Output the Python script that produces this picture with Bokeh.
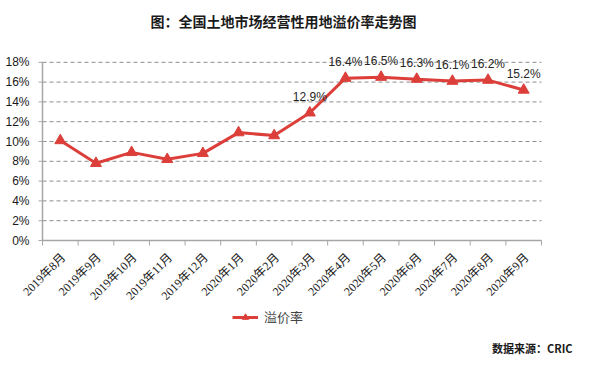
import math
from bokeh.plotting import figure
from bokeh.models import ColumnDataSource, LabelSet, Label, Legend, LegendItem, Range1d
from bokeh.core.properties import value
from bokeh.embed import file_html
from bokeh.resources import INLINE

# ---- data ----
months = ["2019年8月", "2019年9月", "2019年10月", "2019年11月", "2019年12月",
          "2020年1月", "2020年2月", "2020年3月", "2020年4月", "2020年5月",
          "2020年6月", "2020年7月", "2020年8月", "2020年9月"]
premium_rate = [10.1, 7.8, 8.9, 8.2, 8.8, 10.9, 10.6, 12.9, 16.4, 16.5, 16.3, 16.1, 16.2, 15.2]
show_label = [False] * 7 + [True] * 7
y_ticks = [0, 2, 4, 6, 8, 10, 12, 14, 16, 18]
y_tick_labels = ["0%", "2%", "4%", "6%", "8%", "10%", "12%", "14%", "16%", "18%"]
title_text = "图：全国土地市场经营性用地溢价率走势图"
series_name = "溢价率"
source_text = "数据来源：CRIC"

RED = "#dc3f3a"
AXIS = "#a6a6a6"
n = len(months)

# ---- canvas / scale geometry (pixels) ----
W, H = 574, 355
plot_left, plot_right = 42, 541      # x of category 0 edge and category n edge
zero_y, px_per_pct = 240, 9.9        # pixel row of 0% and pixels per percentage point
ux = (plot_right - plot_left) / n
x_start = -plot_left / ux
x_end = n + (W - plot_right) / ux
y_end = zero_y / px_per_pct
y_start = -(H - zero_y) / px_per_pct
tick_len_x = 4 / ux
tick_len_y = 5 / px_per_pct

xs = [i + 0.5 for i in range(n)]
labels = [f"{v:.1f}%" if s else "" for v, s in zip(premium_rate, show_label)]
src = ColumnDataSource(dict(x=xs, y=premium_rate, lab=labels))
cat_src = ColumnDataSource(dict(x=xs, y=[0] * n, m=months))
bnd = list(range(n + 1))
xtick_src = ColumnDataSource(dict(x=bnd, y0=[0] * len(bnd), y1=[-tick_len_y] * len(bnd)))
ytick_src = ColumnDataSource(dict(y=y_ticks, x0=[-tick_len_x] * len(y_ticks),
                                  x1=[0] * len(y_ticks), x=[0] * len(y_ticks),
                                  t=y_tick_labels))
grid_src = ColumnDataSource(dict(y=y_ticks[1:], x0=[0] * (len(y_ticks) - 1),
                                 x1=[n] * (len(y_ticks) - 1)))

p = figure(width=W, height=H, output_backend="svg", toolbar_location=None,
           x_range=Range1d(x_start, x_end), y_range=Range1d(y_start, y_end),
           min_border_left=0, min_border_right=0, min_border_top=0, min_border_bottom=0)
p.outline_line_color = None
p.background_fill_color = "white"
p.border_fill_color = "white"
p.axis.visible = False
p.grid.visible = False

# gridlines (dashed) across the plot area
p.segment(x0="x0", y0="y", x1="x1", y1="y", source=grid_src,
          line_color="#8c8c8c", line_dash="4 3", line_width=1)

# value axis
p.segment(x0=0, y0=0, x1=0, y1=y_ticks[-1], line_color=AXIS, line_width=1.5)
p.segment(x0="x0", y0="y", x1="x1", y1="y", source=ytick_src, line_color=AXIS, line_width=1)
p.add_layout(LabelSet(x="x", y="y", text="t", source=ytick_src, x_offset=-13,
                      text_align="right", text_baseline="middle",
                      text_font=value("Liberation Sans"), text_font_size="12px",
                      text_color="#1a1a1a"))

# category axis
p.segment(x0=0, y0=0, x1=n, y1=0, line_color=AXIS, line_width=1.5)
p.segment(x0="x", y0="y0", x1="x", y1="y1", source=xtick_src, line_color=AXIS, line_width=1)
p.add_layout(LabelSet(x="x", y="y", text="m", source=cat_src, angle=math.pi / 4,
                      text_align="right", text_baseline="middle", x_offset=3, y_offset=-15,
                      text_font=value("Liberation Serif, Noto Sans CJK SC"),
                      text_font_size="12px", text_color="#1a1a1a"))

# series
r_line = p.line("x", "y", source=src, line_color=RED, line_width=3)
r_mark = p.scatter("x", "y", source=src, marker="triangle", size=11,
                   fill_color=RED, line_color=RED)
p.add_layout(LabelSet(x="x", y="y", text="lab", source=src, text_align="center",
                      text_baseline="bottom", y_offset=9,
                      text_font=value("Liberation Sans"), text_font_size="12px",
                      text_color="#262626"))

legend = Legend(items=[LegendItem(label=series_name, renderers=[r_line, r_mark])],
                location=(232, 29), orientation="horizontal",
                border_line_color=None, background_fill_alpha=0,
                padding=0, margin=0, glyph_width=26, glyph_height=16,
                label_text_font="Noto Sans CJK SC", label_text_font_size="13px",
                label_standoff=6)
p.add_layout(legend, "center")

p.add_layout(Label(x=150, y=H - 20, x_units="screen", y_units="screen", text=title_text,
                   text_align="left", text_baseline="middle",
                   text_font="Noto Sans CJK SC", text_font_size="14px",
                   text_font_style="bold", text_color="#1a1a1a"))
p.add_layout(Label(x=W - 2, y=8, x_units="screen", y_units="screen", text=source_text,
                   text_align="right", text_baseline="middle",
                   text_font="Noto Sans CJK SC", text_font_size="11px",
                   text_font_style="bold", text_color="#1a1a1a"))

open("out.html", "w").write(file_html(p, INLINE))
